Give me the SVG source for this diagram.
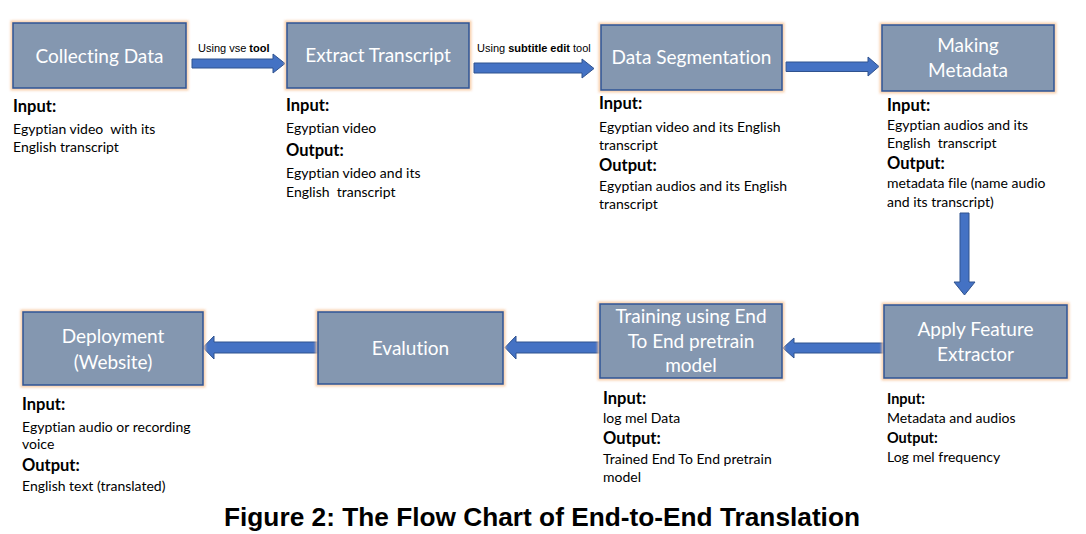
<svg xmlns="http://www.w3.org/2000/svg" width="1086" height="534" viewBox="0 0 1086 534">
<style>
text{font-variant-ligatures:none;white-space:pre}
.glow{fill:none;stroke:#F7C89E;stroke-width:5;opacity:0.85}
.box{fill:#8497B0;stroke:#2F5597;stroke-width:1.5}
.bt{font-family:Lato,"Open Sans",sans-serif;font-size:19px;fill:#FFFFFF;text-anchor:middle}
.arr{fill:#4472C4;stroke:#2F528F;stroke-width:1}
.lbl{font-family:"Liberation Sans",Arial,sans-serif;font-size:11px;fill:#000}
.h{font-family:Lato,"Open Sans",sans-serif;font-weight:bold;font-size:16.5px;fill:#000}
.hs{font-family:Lato,"Open Sans",sans-serif;font-weight:bold;font-size:14.5px;fill:#000}
.t{font-family:Lato,"Open Sans",sans-serif;font-size:14px;fill:#000}
.title{font-family:"Liberation Sans",Arial,sans-serif;font-weight:bold;font-size:25px;fill:#000;text-anchor:middle}
</style>
<defs>
<filter id="blur" x="-10%" y="-20%" width="120%" height="140%"><feGaussianBlur stdDeviation="1.2"/></filter>
</defs>
<rect width="1086" height="534" fill="#FFFFFF"/>

<g id="connectors">
<polygon class="arr" points="192,59 273,59 273,54 285,63.5 273,73 273,68 192,68"/>
<polygon class="arr" points="474,63 582,63 582,59 594,68.5 582,78 582,73 474,73"/>
<polygon class="arr" points="786,62 868,62 868,57 879,66.5 868,76 868,71.5 786,71.5"/>
<polygon class="arr" points="960,213 969,213 969,282 975,282 964.5,295 954,282 960,282"/>
<polygon class="arr" points="884,343 794,343 794,338 783,348 794,358 794,353 884,353"/>
<polygon class="arr" points="600,342 516,342 516,336 505,347.5 516,359 516,353 600,353"/>
<polygon class="arr" points="318,342 214,342 214,336 203,347.5 214,359 214,353 318,353"/>
<text class="lbl" x="198" y="52">Using vse <tspan font-weight="bold">tool</tspan></text>
<text class="lbl" x="477" y="52">Using <tspan font-weight="bold">subtitle edit</tspan> tool</text>
</g>

<g id="n1">
<rect class="glow" x="13" y="23" width="173" height="65" filter="url(#blur)"/>
<rect class="box" x="13" y="23" width="173" height="65"/>
<text class="bt" x="99.5" y="63">Collecting Data</text>
<text class="h" x="13" y="112">Input:</text>
<text class="t" x="13" y="134">Egyptian video  with its</text>
<text class="t" x="13" y="152">English transcript</text>
</g>

<g id="n2">
<rect class="glow" x="287" y="23" width="182" height="65" filter="url(#blur)"/>
<rect class="box" x="287" y="23" width="182" height="65"/>
<text class="bt" x="378" y="62">Extract Transcript</text>
<text class="h" x="286" y="111">Input:</text>
<text class="t" x="286" y="133">Egyptian video</text>
<text class="h" x="286" y="156">Output:</text>
<text class="t" x="286" y="178">Egyptian video and its</text>
<text class="t" x="286" y="197">English  transcript</text>
</g>

<g id="n3">
<rect class="glow" x="601" y="25" width="181" height="65" filter="url(#blur)"/>
<rect class="box" x="601" y="25" width="181" height="65"/>
<text class="bt" x="691.5" y="64">Data Segmentation</text>
<text class="h" x="599" y="109">Input:</text>
<text class="t" x="599" y="132">Egyptian video and its English</text>
<text class="t" x="599" y="150">transcript</text>
<text class="h" x="599" y="171">Output:</text>
<text class="t" x="599" y="191">Egyptian audios and its English</text>
<text class="t" x="599" y="209">transcript</text>
</g>

<g id="n4">
<rect class="glow" x="882" y="25" width="172" height="66" filter="url(#blur)"/>
<rect class="box" x="882" y="25" width="172" height="66"/>
<text class="bt" x="968" y="52">Making</text>
<text class="bt" x="968" y="77">Metadata</text>
<text class="h" x="887" y="111">Input:</text>
<text class="t" x="887" y="130">Egyptian audios and its</text>
<text class="t" x="887" y="148">English  transcript</text>
<text class="h" x="887" y="169">Output:</text>
<text class="t" x="887" y="188">metadata file (name audio</text>
<text class="t" x="887" y="207">and its transcript)</text>
</g>

<g id="n5">
<rect class="glow" x="884" y="305" width="183" height="73" filter="url(#blur)"/>
<rect class="box" x="884" y="305" width="183" height="73"/>
<text class="bt" x="975.5" y="336">Apply Feature</text>
<text class="bt" x="975.5" y="361">Extractor</text>
<text class="hs" x="887" y="404">Input:</text>
<text class="t" x="887" y="423">Metadata and audios</text>
<text class="hs" x="887" y="443">Output:</text>
<text class="t" x="887" y="462">Log mel frequency</text>
</g>

<g id="n6">
<rect class="glow" x="600" y="304" width="182" height="74" filter="url(#blur)"/>
<rect class="box" x="600" y="304" width="182" height="74"/>
<text class="bt" x="691" y="323">Training using End</text>
<text class="bt" x="691" y="348">To End pretrain</text>
<text class="bt" x="691" y="372">model</text>
<text class="h" x="603" y="404">Input:</text>
<text class="t" x="603" y="423">log mel Data</text>
<text class="h" x="603" y="444">Output:</text>
<text class="t" x="603" y="464">Trained End To End pretrain</text>
<text class="t" x="603" y="482">model</text>
</g>

<g id="n7">
<rect class="glow" x="318" y="312" width="185" height="72" filter="url(#blur)"/>
<rect class="box" x="318" y="312" width="185" height="72"/>
<text class="bt" x="410.5" y="355">Evalution</text>
</g>

<g id="n8">
<rect class="glow" x="23" y="312" width="180" height="73" filter="url(#blur)"/>
<rect class="box" x="23" y="312" width="180" height="73"/>
<text class="bt" x="113" y="343">Deployment</text>
<text class="bt" x="113" y="369">(Website)</text>
<text class="h" x="22" y="410">Input:</text>
<text class="t" x="22" y="432">Egyptian audio or recording</text>
<text class="t" x="22" y="449">voice</text>
<text class="h" x="22" y="471">Output:</text>
<text class="t" x="22" y="491">English text (translated)</text>
</g>

<text class="title" x="542" y="526" textLength="636" lengthAdjust="spacingAndGlyphs">Figure 2: The Flow Chart of End-to-End Translation</text>
</svg>
